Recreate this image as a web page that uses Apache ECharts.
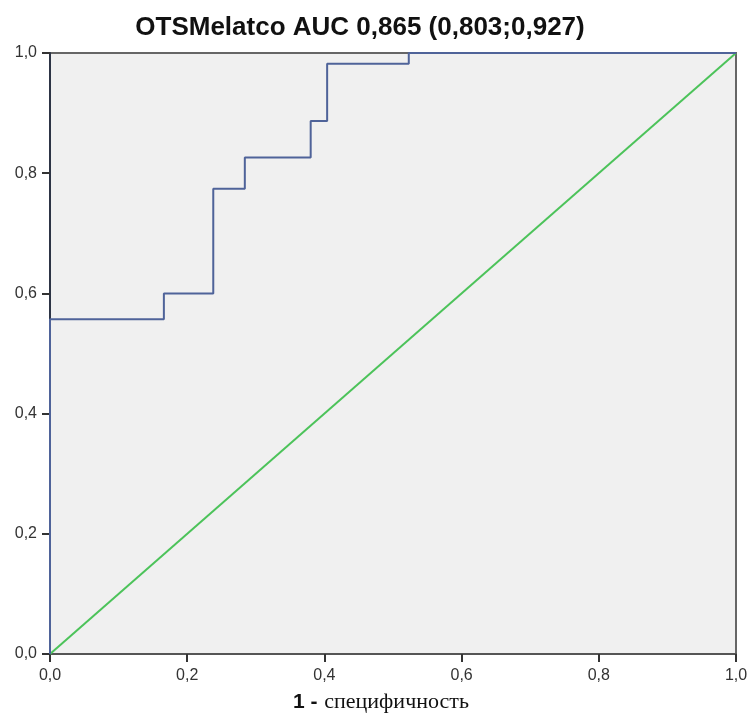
<!DOCTYPE html>
<html>
<head>
<meta charset="utf-8">
<script src="https://cdn.jsdelivr.net/npm/echarts@6/dist/echarts.min.js"></script>
<style>
html, body { margin: 0; padding: 0; background: #fff; }
#chart { width: 747px; height: 717px; }
</style>
</head>
<body>
<div id="chart"></div>
<script>
// ROC vertices (1 - specificity, sensitivity)
var fpr = [0, 0, 0.166, 0.166, 0.238, 0.238, 0.284, 0.284, 0.380, 0.380, 0.404, 0.404, 0.523, 0.523, 1.0];
var tpr = [0, 0.557, 0.557, 0.600, 0.600, 0.774, 0.774, 0.826, 0.826, 0.887, 0.887, 0.982, 0.982, 1.0, 1.0];
var refX = [0, 1];
var refY = [0, 1];
var titleText = "OTSMelatco AUC 0,865 (0,803;0,927)";

function pairs(xs, ys){
	return xs.map(function(x, i){ return [x, ys[i]]; });
}
function fmt(v){
	return v.toFixed(1).replace(".", ",");
}

var sans = "Liberation Sans, Arial, sans-serif";
var chart = echarts.init(document.getElementById("chart"));
chart.setOption({
	animation: false,
	backgroundColor: "#fff",
	title: {
		text: titleText,
		left: 355,
		textAlign: "center",
		top: 10,
		textStyle: {
			fontFamily: sans,
			fontWeight: "bold",
			fontSize: 26,
			color: "#111"
		}
	},
	grid: {
		left: 50, right: 11, top: 53, bottom: 63,
		outerBoundsMode: "none",
		containLabel: false,
		show: true,
		backgroundColor: "#f0f0f0",
		borderColor: "#666",
		borderWidth: 2
	},
	xAxis: {
		type: "value", min: 0, max: 1, interval: 0.2,
		axisLine: { show: true, onZero: false, lineStyle: { color: "#555", width: 2 } },
		axisTick: { show: true, length: 8, lineStyle: { color: "#333", width: 2 } },
		splitLine: { show: false },
		axisLabel: {
			formatter: fmt, color: "#333", fontSize: 16,
			fontFamily: sans, margin: 14
		},
		name: "{a|1 -}  {b|специфичность}",
		nameLocation: "middle",
		nameGap: 37,
		nameTextStyle: {
			padding: [0, 24, 0, 0],
			rich: {
				a: { fontFamily: sans, fontWeight: "bold", fontSize: 21, color: "#111" },
				b: { fontFamily: "Liberation Serif, Times New Roman, serif", fontSize: 22, color: "#111" }
			}
		}
	},
	yAxis: {
		type: "value", min: 0, max: 1, interval: 0.2,
		axisLine: { show: true, onZero: false, lineStyle: { color: "#2d3445", width: 2 } },
		axisTick: { show: true, length: 8, lineStyle: { color: "#333", width: 2 } },
		splitLine: { show: false },
		axisLabel: {
			formatter: fmt, color: "#333", fontSize: 16,
			fontFamily: sans, margin: 13
		}
	},
	series: [{
		type: "line",
		data: pairs(refX, refY),
		symbol: "none",
		lineStyle: { color: "#4cc35a", width: 2 },
		z: 2
	}, {
		type: "line",
		data: pairs(fpr, tpr),
		symbol: "none",
		lineStyle: { color: "#4f6399", width: 2 },
		z: 3
	}]
});
</script>
</body>
</html>
